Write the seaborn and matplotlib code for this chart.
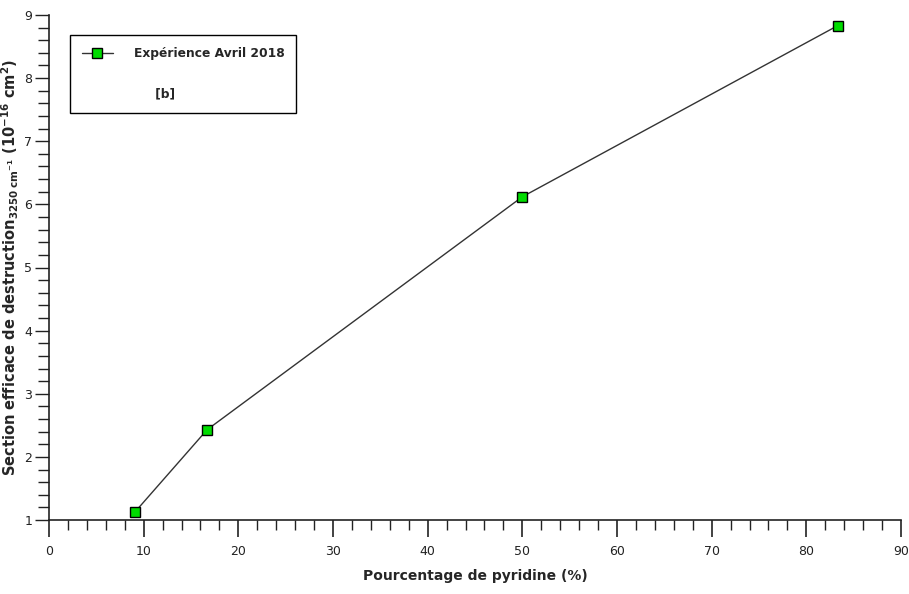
import matplotlib
matplotlib.use("Agg")
import matplotlib.pyplot as plt
import seaborn as sns
import pandas as pd
from matplotlib.lines import Line2D
from matplotlib.ticker import MultipleLocator

pyridine_pct = [9.1, 16.7, 50.0, 83.3]
section_eff = [1.13, 2.43, 6.12, 8.83]
series_label = "Expérience Avril 2018"
panel_label = "[b]"
x_ticks = [0, 10, 20, 30, 40, 50, 60, 70, 80, 90]
y_ticks = [1, 2, 3, 4, 5, 6, 7, 8, 9]

sns.set_style("ticks")
plt.rcParams['font.family'] = ['DejaVu Sans']

df = pd.DataFrame({"x": pyridine_pct, "y": section_eff})

fig = plt.figure(figsize=(9.09, 5.94), dpi=100)
ax = fig.add_axes([49/909, 1-520/594, 852/909, 505/594])

sns.lineplot(data=df, x="x", y="y", ax=ax, color="#333333", linewidth=1.0,
             marker="s", markersize=7.5, markerfacecolor="#00dd00",
             markeredgecolor="black", markeredgewidth=1.0, label=series_label)

ax.set_xlim(0, 90)
ax.set_ylim(1, 9)
ax.set_xticks(x_ticks)
ax.set_yticks(y_ticks)
ax.xaxis.set_minor_locator(MultipleLocator(2))
ax.yaxis.set_minor_locator(MultipleLocator(0.2))

for s in ["top", "right"]:
    ax.spines[s].set_visible(False)
for s in ["left", "bottom"]:
    ax.spines[s].set_linewidth(1.2)
    ax.spines[s].set_color("#222222")

ax.tick_params(axis="x", which="major", direction="out", length=12, width=1.2,
               labelsize=9, pad=6, colors="#222222")
ax.tick_params(axis="x", which="minor", direction="out", length=7, width=1.0, colors="#222222")
ax.tick_params(axis="y", which="major", direction="out", length=10, width=1.0,
               labelsize=9, pad=2, colors="#222222")
ax.tick_params(axis="y", which="minor", direction="out", length=8, width=1.0, colors="#222222")

ax.set_xlabel("Pourcentage de pyridine (%)", fontsize=10, fontweight="bold", labelpad=8)
ax.set_ylabel(r"Section efficace de destruction$_{\mathregular{3250\ cm^{-1}}}$ (10$^{\mathregular{-16}}$ cm$^{\mathregular{2}}$)",
              fontsize=10.5, fontweight="bold")
ax.yaxis.set_label_coords(-(49 - 21) / 852, 0.5)

handles, labels = ax.get_legend_handles_labels()
blank = Line2D([], [], linestyle="none", marker=None)
leg = ax.legend([handles[0], blank], [series_label, "     " + panel_label],
                loc="upper left", bbox_to_anchor=(0.0246, 0.960),
                frameon=True, fancybox=False, edgecolor="black", framealpha=1,
                prop={"weight": "bold", "size": 8.8}, handlelength=2.6,
                handletextpad=1.7, borderpad=0.95, labelspacing=2.3,
                borderaxespad=0)
leg.get_frame().set_linewidth(1.0)

fig.savefig("out.png", dpi=100)
